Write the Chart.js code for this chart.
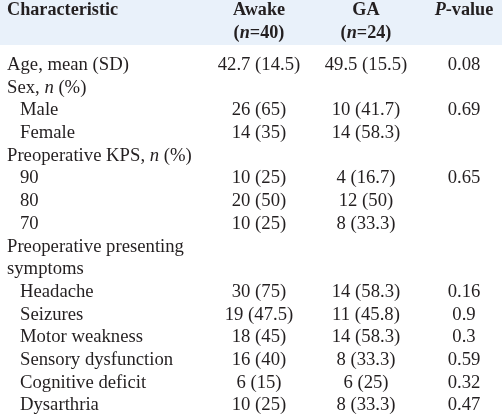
<!DOCTYPE html>
<html>
<head>
<meta charset="utf-8">
<script src="https://cdn.jsdelivr.net/npm/chart.js@4/dist/chart.umd.min.js"></script>
<style>
  html, body { margin: 0; padding: 0; background: #ffffff; }
  #wrap { width: 502px; height: 416px; }
</style>
</head>
<body>
<div id="wrap"><canvas id="c" width="502" height="416"></canvas></div>
<script>
const headerLabel = "Characteristic";
const headerAwake = ["Awake", "(*n*=40)"];
const headerGA = ["GA", "(*n*=24)"];
const headerP = ["*P*-value"];

const characteristics = [
  "Age, mean (SD)", "Sex, *n* (%)", "Male", "Female",
  "Preoperative KPS, *n* (%)", "90", "80", "70",
  "Preoperative presenting", "symptoms",
  "Headache", "Seizures", "Motor weakness", "Sensory dysfunction",
  "Cognitive deficit", "Dysarthria"
];
const indentLevel = [0,0,1,1,0,1,1,1,0,0,1,1,1,1,1,1];
const awakeValues = ["42.7 (14.5)", "", "26 (65)", "14 (35)", "", "10 (25)", "20 (50)", "10 (25)",
  "", "", "30 (75)", "19 (47.5)", "18 (45)", "16 (40)", "6 (15)", "10 (25)"];
const gaValues = ["49.5 (15.5)", "", "10 (41.7)", "14 (58.3)", "", "4 (16.7)", "12 (50)", "8 (33.3)",
  "", "", "14 (58.3)", "11 (45.8)", "14 (58.3)", "8 (33.3)", "6 (25)", "8 (33.3)"];
const pValues = ["0.08", "", "0.69", "", "", "0.65", "", "",
  "", "", "0.16", "0.9", "0.3", "0.59", "0.32", "0.47"];

// ---- layout / style ----
const FONT_FAMILY = '"Liberation Serif", "Times New Roman", serif';
const FONT_SIZE = 18.7;
const FONT_SIZE_BOLD = 18.2;
const TEXT_COLOR = "#231f20";
const HEADER_BG = "#e9f1fa";
const colX = { label: 7, indent: 20, awake: 259, ga: 366, p: 464 };
const headerRows = [-2.40, -1.39];
const headerBottom = -0.88;

function rowPoints(values, x) {
  const pts = [];
  values.forEach((v, i) => { if (v !== "") pts.push({ x: x, y: i, text: v }); });
  return pts;
}

const labelPoints = characteristics.map((t, i) => ({
  x: indentLevel[i] ? colX.indent : colX.label, y: i, text: t
}));

function drawRich(ctx, text, x, y, align, bold) {
  const parts = text.split("*");
  const weight = bold ? "bold " : "";
  const size = bold ? FONT_SIZE_BOLD : FONT_SIZE;
  const fontFor = (italic) => (italic ? "italic " : "") + weight + size + "px " + FONT_FAMILY;
  let total = 0;
  parts.forEach((p, k) => { ctx.font = fontFor(k % 2 === 1); total += ctx.measureText(p).width; });
  let cx = align === "center" ? x - total / 2 : x;
  ctx.textAlign = "left";
  ctx.textBaseline = "middle";
  parts.forEach((p, k) => {
    ctx.font = fontFor(k % 2 === 1);
    ctx.fillText(p, cx, y);
    cx += ctx.measureText(p).width;
  });
}

const tablePlugin = {
  id: "tablePlugin",
  beforeDatasetsDraw(chart) {
    const { ctx, scales } = chart;
    const y0 = scales.y.getPixelForValue(scales.y.min);
    const y1 = scales.y.getPixelForValue(headerBottom);
    ctx.save();
    ctx.fillStyle = HEADER_BG;
    ctx.fillRect(scales.x.left, Math.min(y0, y1), scales.x.right - scales.x.left, Math.abs(y1 - y0));
    ctx.restore();
  },
  afterDatasetsDraw(chart) {
    const { ctx, scales } = chart;
    ctx.save();
    ctx.fillStyle = TEXT_COLOR;
    // header
    const hy = headerRows.map(v => scales.y.getPixelForValue(v));
    drawRich(ctx, headerLabel, scales.x.getPixelForValue(colX.label), hy[0], "left", true);
    headerAwake.forEach((t, k) => drawRich(ctx, t, scales.x.getPixelForValue(colX.awake), hy[k], "center", true));
    headerGA.forEach((t, k) => drawRich(ctx, t, scales.x.getPixelForValue(colX.ga), hy[k], "center", true));
    headerP.forEach((t, k) => drawRich(ctx, t, scales.x.getPixelForValue(colX.p), hy[k], "center", true));
    // body cells from dataset elements
    chart.data.datasets.forEach((ds, di) => {
      const meta = chart.getDatasetMeta(di);
      meta.data.forEach((el, j) => {
        const raw = ds.data[j];
        drawRich(ctx, raw.text, el.x, el.y, ds.align, false);
      });
    });
    ctx.restore();
  }
};

new Chart(document.getElementById("c"), {
  type: "scatter",
  data: {
    datasets: [
      { label: "Characteristic", data: labelPoints, align: "left", pointRadius: 0 },
      { label: "Awake", data: rowPoints(awakeValues, colX.awake), align: "center", pointRadius: 0 },
      { label: "GA", data: rowPoints(gaValues, colX.ga), align: "center", pointRadius: 0 },
      { label: "P-value", data: rowPoints(pValues, colX.p), align: "center", pointRadius: 0 }
    ]
  },
  options: {
    responsive: false,
    animation: false,
    events: [],
    layout: { padding: 0 },
    plugins: { legend: { display: false }, tooltip: { enabled: false } },
    scales: {
      x: { type: "linear", min: 0, max: 502, display: false },
      y: { type: "linear", min: -2.863, max: 15.463, reverse: true, display: false }
    }
  },
  plugins: [tablePlugin]
});
</script>
</body>
</html>
